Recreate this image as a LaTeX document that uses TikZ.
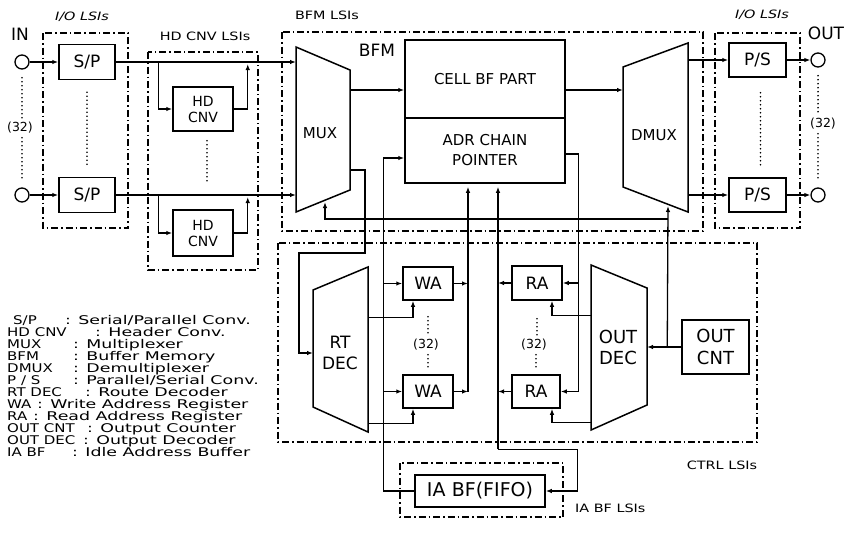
\documentclass[tikz,border=0pt]{standalone}
\usepackage{fontspec}
\setmainfont{DejaVu Sans}
\newfontfamily\widefont[FakeStretch=1.25]{DejaVu Sans}
\newfontfamily\descfont[FakeStretch=1.45]{DejaVu Sans}
\usetikzlibrary{arrows.meta, positioning, calc}

\tikzset{
    unit/.style={draw, line width=1.5pt, inner sep=0pt, align=center},
    txtbig/.style={font=\fontsize{17}{21}\selectfont},
    txtmid/.style={font=\fontsize{15}{20}\selectfont},
    grp/.style={font=\widefont\fontsize{11.5}{11.5}\selectfont, inner sep=0pt},
    legkey/.style={font=\widefont\fontsize{12}{12}\selectfont, inner sep=0pt, anchor=west,
        text height=8.5pt, text depth=1pt},
    legdesc/.style={legkey, font=\descfont\fontsize{12}{12}\selectfont},
    lsi/.style={line width=1.3pt, dash pattern=on 7pt off 3pt on 1.5pt off 3pt},
    link/.style={line width=1.3pt},
    arr/.style={link, -{Latex[length=6pt,width=4.5pt]}},
    dots/.style={line width=1.8pt, line cap=round, dash pattern=on 0pt off 4pt},
    port/.style={draw, circle, line width=1.3pt, minimum size=14pt, inner sep=0pt},
}

\begin{document}
\begin{tikzpicture}[x=1pt, y=-1pt]
    \useasboundingbox (0,0) rectangle (853,536);

    % LSI frames (dash-dot)
    \draw[lsi] (43,33) rectangle (128,228);
    \draw[lsi] (148,52) rectangle (258,270);
    \draw[lsi] (282,32) rectangle (703,231);
    \draw[lsi] (715,33) rectangle (800,228);
    \draw[lsi] (278,243) rectangle (757,442);
    \draw[lsi] (400,463) rectangle (563,517);

    % Frame labels
    \node[grp] (ioin) at (82,17) {\itshape I/O LSIs};
    \node[grp] (hdgrp) at (205,36) {HD CNV LSIs};
    \node[grp] (bfmgrp) at (327,15) {BFM LSIs};
    \node[grp] (ioout) at (762,15) {\itshape I/O LSIs};
    \node[grp] (ctrlgrp) at (722,465) {CTRL LSIs};
    \node[grp, anchor=west] (iagrp) at (575,508) {IA BF LSIs};

    % Ports
    \node[txtbig] (inlbl) at (20,34) {IN};
    \node[txtbig] (outlbl) at (826,33) {OUT};
    \node[port] (in1) at (22,62) {};
    \node[port] (in2) at (22,195) {};
    \node[port] (out1) at (818,60) {};
    \node[port] (out2) at (818,195) {};
    \node[font=\fontsize{12.5}{12.5}\selectfont, inner sep=1pt] (inn) at (20,128) {(32)};
    \node[font=\fontsize{12.5}{12.5}\selectfont, inner sep=1pt] (outn) at (823,124) {(32)};

    % Units
    \node[unit, txtbig, minimum width=56pt, minimum height=35pt] (sp1) at (87,62) {S/P};
    \node[unit, txtbig, minimum width=56pt, minimum height=35pt] (sp2) at (87,195) {S/P};
    \node[unit, font=\fontsize{14}{16}\selectfont, minimum width=60pt, minimum height=44pt] (hd1) at (203,109) {HD\\CNV};
    \node[unit, font=\fontsize{14}{16}\selectfont, minimum width=60pt, minimum height=46pt] (hd2) at (203,233) {HD\\CNV};
    \node[unit, txtmid, minimum width=160pt, minimum height=78pt] (cell) at (485,79) {CELL BF PART};
    \node[unit, txtmid, minimum width=160pt, minimum height=65pt] (adr) at (485,150.5) {ADR CHAIN\\POINTER};
    \node[unit, txtbig, minimum width=57pt, minimum height=34pt] (ps1) at (757.5,60) {P/S};
    \node[unit, txtbig, minimum width=57pt, minimum height=34pt] (ps2) at (757.5,195) {P/S};
    \node[unit, txtbig, minimum width=50pt, minimum height=33pt] (wa1) at (428,283.5) {WA};
    \node[unit, txtbig, minimum width=50pt, minimum height=33pt] (wa2) at (428,391.5) {WA};
    \node[unit, txtbig, minimum width=50pt, minimum height=34pt] (ra1) at (537,283) {RA};
    \node[unit, txtbig, minimum width=48pt, minimum height=33pt] (ra2) at (536,391.5) {RA};
    \node[unit, font=\fontsize{18}{22}\selectfont, minimum width=67pt, minimum height=54pt] (outcnt) at (715.5,347) {OUT\\CNT};
    \node[unit, font=\fontsize{19}{19}\selectfont, minimum width=130pt, minimum height=32pt] (iabf) at (480,491) {IA\,\,BF(FIFO)};

    % Selectors and decoders
    \draw[unit] (296,47) coordinate (mux-tl) -- (350,70) coordinate (mux-tr)
        -- (350,190) coordinate (mux-br) -- (296,212) coordinate (mux-bl) -- cycle;
    \node[txtmid] (mux) at (320,133) {MUX};
    \draw[unit] (623,67) coordinate (dm-tl) -- (688,43) coordinate (dm-tr)
        -- (688,212) coordinate (dm-br) -- (623,187) coordinate (dm-bl) -- cycle;
    \node[txtmid] (dmux) at (654,135) {DMUX};
    \draw[unit] (313,290) coordinate (rt-tl) -- (368,267) coordinate (rt-tr)
        -- (368,432) coordinate (rt-br) -- (313,407) coordinate (rt-bl) -- cycle;
    \node[txtbig, align=center] (rtdec) at (340,353) {RT\\DEC};
    \draw[unit] (591,265) coordinate (od-tl) -- (647,288) coordinate (od-tr)
        -- (647,405) coordinate (od-br) -- (591,430) coordinate (od-bl) -- cycle;
    \node[font=\fontsize{18}{21}\selectfont, align=center] (outdec) at (618,347) {OUT\\DEC};
    \node[txtbig] (bfm) at (377,50) {BFM};

    % (32) between registers
    \node[font=\fontsize{12.5}{12.5}\selectfont, inner sep=1pt] (wan) at (426,345) {(32)};
    \node[font=\fontsize{12.5}{12.5}\selectfont, inner sep=1pt] (ran) at (534,345) {(32)};

    % Repetition dots
    \draw[dots] ([yshift=-8pt]in1.south) -- ([yshift=3pt]inn.north -| in1);
    \draw[dots] ([yshift=-3pt]inn.south -| in2) -- ([yshift=8pt]in2.north);
    \draw[dots] ([yshift=-8pt]out1.south) -- ([yshift=3pt]outn.north -| out1);
    \draw[dots] ([yshift=-3pt]outn.south -| out2) -- ([yshift=8pt]out2.north);
    \draw[dots] ([yshift=-12pt]sp1.south) -- ([yshift=9pt]sp2.north);
    \draw[dots] ([xshift=4pt, yshift=-9pt]hd1.south) -- ([xshift=4pt, yshift=28pt]hd2.north);
    \draw[dots] ([xshift=3pt, yshift=-15pt]ps1.south) -- ([xshift=3pt, yshift=11pt]ps2.north);
    \draw[dots] ([yshift=-16pt]wa1.south) -- ([yshift=3pt]wan.north -| wa1);
    \draw[dots] ([yshift=-3pt]wan.south -| wa2) -- ([yshift=5pt]wa2.north);
    \draw[dots] ([yshift=-18pt]ra1.south) -- ([yshift=3pt]ran.north -| ra1);
    \draw[dots] ([yshift=-3pt]ran.south -| ra2) -- ([yshift=5pt]ra2.north);

    % Cell path
    \draw[arr] (in1) -- (sp1);
    \draw[arr] (in2) -- (sp2);
    \draw[arr] (sp1) -- (sp1 -| mux-tl);
    \draw[arr] (sp2) -- (sp2 -| mux-tl);
    \draw[arr] ([xshift=-14pt]hd1.west |- sp1) |- (hd1.west);
    \draw[arr] (hd1.east) -| ([xshift=14pt, yshift=-2pt]hd1.east |- sp1);
    \draw[arr] ([xshift=-14pt]hd2.west |- sp2) |- (hd2.west);
    \draw[arr] (hd2.east) -| ([xshift=14pt, yshift=-2pt]hd2.east |- sp2);
    \draw[arr] ([yshift=-11pt]cell.west -| mux-tr) -- ([yshift=-11pt]cell.west);
    \draw[arr] ([yshift=-11pt]cell.east) -- ([yshift=-11pt]cell.east -| dm-tl);
    \draw[arr] (ps1 -| dm-tr) -- (ps1);
    \draw[arr] (ps2 -| dm-tr) -- (ps2);
    \draw[arr] (ps1) -- (out1);
    \draw[arr] (ps2) -- (out2);

    % Header to route decoder
    \draw[arr] ([yshift=20pt]mux-br) -| ++(15,83) -| ([xshift=-14pt]rt-tl |- rtdec) -- (rt-tl |- rtdec);

    % Idle address bus
    \coordinate (wbus) at ([xshift=-21pt]adr.west);
    \draw[arr] (iabf.west) -| ([xshift=-21pt, yshift=-7.5pt]adr.west) -- ([yshift=-7.5pt]adr.west);
    \draw[arr] (wa1 -| wbus) -- (wa1);
    \draw[arr] (wa2 -| wbus) -- (wa2);

    % Write address to BFM
    \coordinate (wout) at ([xshift=-17pt, yshift=-3pt]adr.south);
    \draw[arr] (wa1) -- (wa1 -| wout);
    \draw[arr] (wa2) -- (wa2 -| wout);
    \draw[arr] (wa2 -| wout) -- (wout);

    % Read address to BFM and IA BF
    \coordinate (rout) at ([xshift=13pt, yshift=-3pt]adr.south);
    \draw[arr] (ra1) -- (ra1 -| rout);
    \draw[arr] (ra2) -- (ra2 -| rout);
    \draw[arr] ([yshift=25pt]iabf.north -| rout) -- (rout);
    \draw[arr] ([yshift=25pt]iabf.north -| rout) -| ([xshift=32pt]iabf.east) -- (iabf.east);

    % Next pointer to read registers
    \coordinate (abus) at ([xshift=13pt, yshift=-3.5pt]adr.east);
    \draw[link] ([yshift=-3.5pt]adr.east) -- (abus) -- (abus |- ra2);
    \draw[arr] (ra1 -| abus) -- (ra1);
    \draw[arr] (ra2 -| abus) -- (ra2);

    % Decoder enables
    \draw[arr] ([yshift=-15pt]ra1.south -| od-tl) -| ([xshift=15pt]ra1.south);
    \draw[arr] ([yshift=-14pt]ra2.south -| od-tl) -| ([xshift=16pt]ra2.south);
    \draw[arr] ([yshift=-17pt]wa1.south -| rt-tr) -| ([xshift=-15pt]wa1.south);
    \draw[arr] ([yshift=-15pt]wa2.south -| rt-tr) -| ([xshift=-15pt]wa2.south);

    % Output counter
    \coordinate (cbus) at ([xshift=-14pt]outcnt.west);
    \coordinate (dmctl) at (668,206);
    \coordinate (muxctl) at (325,202);
    \draw[arr] (outcnt) -- (outcnt -| od-tr);
    \draw[arr] (outcnt -| cbus) -- (dmctl);
    \draw[arr] ([yshift=-13pt]dmctl) -| (muxctl);

    % Legend
    \node[legkey] (k1) at (13,321) {S/P};      \node[legdesc] (d1) at (65,321) {: Serial/Parallel Conv.};
    \node[legkey] (k2) at (7,333) {HD CNV};    \node[legdesc] (d2) at (95,333) {: Header Conv.};
    \node[legkey] (k3) at (7,345) {MUX};       \node[legdesc] (d3) at (73,345) {: Multiplexer};
    \node[legkey] (k4) at (7,357) {BFM};       \node[legdesc] (d4) at (73,357) {: Buffer Memory};
    \node[legkey] (k5) at (7,369) {DMUX};      \node[legdesc] (d5) at (73,369) {: Demultiplexer};
    \node[legkey] (k6) at (7,381) {P / S};     \node[legdesc] (d6) at (73,381) {: Parallel/Serial Conv.};
    \node[legkey] (k7) at (7,392.5) {RT DEC};  \node[legdesc] (d7) at (85,392.5) {: Route Decoder};
    \node[legkey] (k8) at (7,404.5) {WA};      \node[legdesc] (d8) at (37,404.5) {: Write Address Register};
    \node[legkey] (k9) at (7,416.5) {RA};      \node[legdesc] (d9) at (33,416.5) {: Read Address Register};
    \node[legkey] (k10) at (7,428.5) {OUT CNT}; \node[legdesc] (d10) at (87,428.5) {: Output Counter};
    \node[legkey] (k11) at (7,440.5) {OUT DEC}; \node[legdesc] (d11) at (83,440.5) {: Output Decoder};
    \node[legkey] (k12) at (7,452.5) {IA BF};   \node[legdesc] (d12) at (72,452.5) {: Idle Address Buffer};
\end{tikzpicture}
\end{document}
